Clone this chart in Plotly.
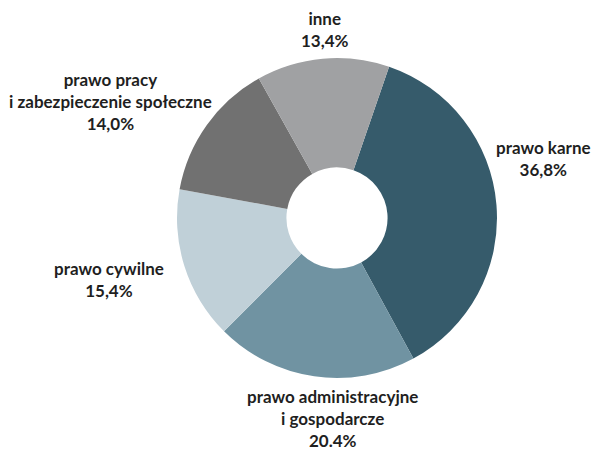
import plotly.graph_objects as go

categories = ["prawo karne", "prawo administracyjne i gospodarcze", "prawo cywilne",
              "prawo pracy i zabezpieczenie społeczne", "inne"]
values = [36.8, 20.4, 15.4, 14.0, 13.4]
value_labels = ["36,8%", "20.4%", "15,4%", "14,0%", "13,4%"]
label_texts = ["prawo karne", "prawo administracyjne<br>i gospodarcze", "prawo cywilne",
               "prawo pracy<br>i zabezpieczenie społeczne", "inne"]
colors = ["#365b6b", "#7093a2", "#c0d0d8", "#717171", "#a0a1a3"]

W, H = 592, 450
cx, cy, R = 337, 218, 160

fig = go.Figure(go.Pie(
    labels=categories, values=values, sort=False, direction="clockwise",
    rotation=19, hole=0.316, textinfo="none", hoverinfo="label+percent",
    marker=dict(colors=colors, line=dict(width=0)),
    domain=dict(x=[(cx - R) / W, (cx + R) / W], y=[(H - cy - R) / H, (H - cy + R) / H]),
    showlegend=False,
))

# label block centres (pixels)
label_pos = [(543, 158), (332, 418), (109, 279), (110, 101), (325, 30)]
for txt, val, (lx, ly) in zip(label_texts, value_labels, label_pos):
    fig.add_annotation(
        x=lx / W, y=1 - ly / H, xref="paper", yref="paper",
        text=f"{txt}<br>{val}", showarrow=False, align="center",
        xanchor="center", yanchor="middle",
        font=dict(family="Lato", size=17, color="#1f1f1f", weight=700),
    )

fig.update_layout(
    width=W, height=H, margin=dict(l=0, r=0, t=0, b=0),
    paper_bgcolor="white", plot_bgcolor="white",
)
fig.write_html("out.html", config={"displayModeBar": False},
               post_script="document.body.style.margin='0';document.body.style.overflow='hidden';")
